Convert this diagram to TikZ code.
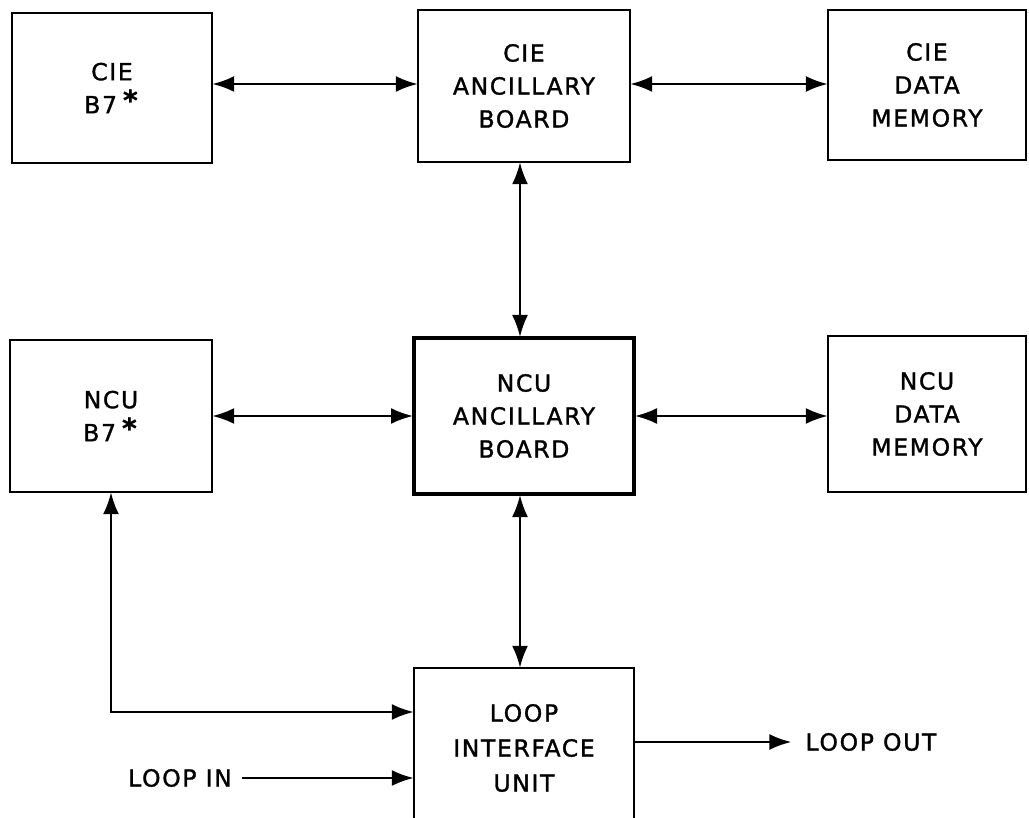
\documentclass[tikz,border=0pt]{standalone}
\usepackage{fontspec}
\setmainfont{DejaVu Sans}[LetterSpace=7,FakeBold=1.3]
\usetikzlibrary{arrows.meta}
\newcommand{\bstar}{\hspace{6pt}\raisebox{3pt}{\fontsize{28}{28}\selectfont\textbf{*}}}
\begin{document}
\begin{tikzpicture}[x=1pt,y=-1pt,
  box/.style={draw,line width=2.4pt,align=center,inner sep=0pt,font=\fontsize{23.5}{33}\selectfont},
  lbl/.style={font=\fontsize{23.5}{33}\selectfont,inner sep=0pt},
  conn/.style={line width=2.4pt,{Latex[length=22pt,width=16pt]}-{Latex[length=22pt,width=16pt]},shorten <=-1pt,shorten >=-1pt},
  oneway/.style={line width=2.4pt,-{Latex[length=22pt,width=16pt]}}]
\useasboundingbox (0,0) rectangle (1029,818);
\fill[white] (0,0) rectangle (1029,818);
\node[box,minimum width=200pt,minimum height=150pt] (cieb7) at (112,88) {CIE\\B7\bstar};
\node[box,minimum width=212pt,minimum height=152pt] (cieanc) at (524,86) {CIE\\ANCILLARY\\BOARD};
\node[box,minimum width=198pt,minimum height=150pt] (ciedm) at (927,85) {CIE\\DATA\\MEMORY};
\node[box,minimum width=202pt,minimum height=152pt] (ncub7) at (111,416) {NCU\\B7\bstar};
\node[box,line width=4pt,minimum width=220pt,minimum height=156pt] (ncuanc) at (524,416) {NCU\\ANCILLARY\\BOARD};
\node[box,minimum width=198pt,minimum height=156pt] (ncudm) at (927,414) {NCU\\DATA\\MEMORY};
\node[box,minimum width=220pt,minimum height=160pt,font=\fontsize{23.5}{35}\selectfont] (liu) at (524,748) {LOOP\\INTERFACE\\UNIT};
\node[lbl,inner xsep=10pt] (loopin) at (180,778) {LOOP IN};
\node[lbl,inner xsep=14pt] (loopout) at (871,742) {LOOP OUT};
\coordinate (tapA) at (0,712);
\coordinate (yA) at (0,84);
\coordinate (yB) at (0,416);
\draw[conn] (cieb7.east |- yA) -- (cieanc.west |- yA);
\draw[conn] (cieanc.east |- yA) -- (ciedm.west |- yA);
\draw[conn] ([xshift=-4pt]cieanc.south) -- ([xshift=-4pt]ncuanc.north);
\draw[conn] (ncub7.east |- yB) -- (ncuanc.west |- yB);
\draw[conn] (ncuanc.east |- yB) -- (ncudm.west |- yB);
\draw[conn] ([xshift=-4pt]ncuanc.south) -- ([xshift=-4pt]liu.north);
\draw[conn] (ncub7.south) |- (liu.west |- tapA);
\draw[oneway,shorten >=-1pt] (loopin.east) -- (liu.west |- loopin);
\draw[oneway,shorten <=-1pt] (liu.east |- loopout) -- (loopout.west);
\end{tikzpicture}
\end{document}
